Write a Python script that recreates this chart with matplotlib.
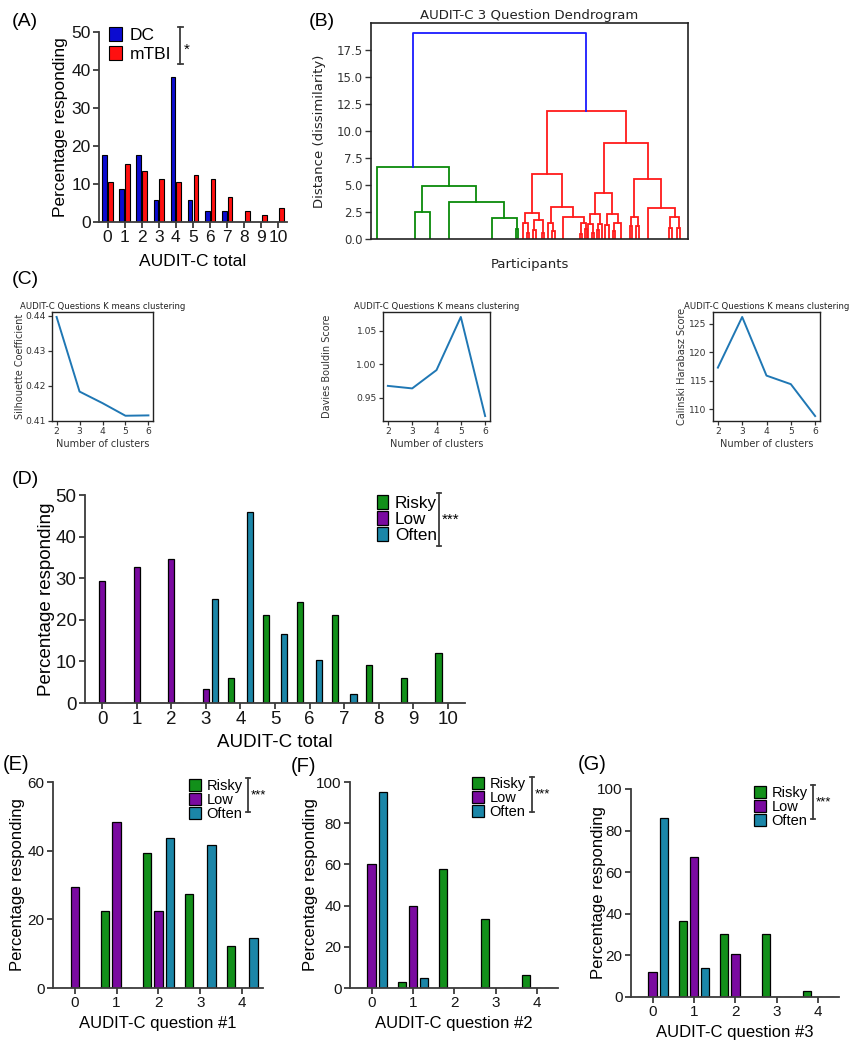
import numpy as np
import matplotlib
matplotlib.use('Agg')
import matplotlib.pyplot as plt
from matplotlib.font_manager import FontProperties
from matplotlib.lines import Line2D

# ---------------- data ----------------
audit_scores = list(range(11))
dc_pct = [17.6, 8.8, 17.6, 5.9, 38.2, 5.9, 2.9, 2.9, 0, 0, 0]
mtbi_pct = [10.5, 15.2, 13.3, 11.4, 10.5, 12.4, 11.4, 6.7, 2.9, 1.9, 3.8]

k_clusters = [2, 3, 4, 5, 6]
silhouette = [0.4397, 0.4184, 0.4151, 0.4115, 0.4116]
davies_bouldin = [0.9675, 0.9637, 0.9912, 1.0710, 0.9222]
calinski = [117.3, 126.2, 115.9, 114.4, 108.8]

group_names = ['Risky', 'Low', 'Often']
total_risky = [0, 0, 0, 0, 6.1, 21.2, 24.2, 21.2, 9.1, 6.1, 12.1]
total_low = [29.3, 32.8, 34.5, 3.4, 0, 0, 0, 0, 0, 0, 0]
total_often = [0, 0, 0, 25.0, 45.8, 16.7, 10.4, 2.1, 0, 0, 0]

answers = [0, 1, 2, 3, 4]
q1_risky = [0, 22.5, 39.4, 27.3, 12.1]
q1_low = [29.3, 48.3, 22.4, 0, 0]
q1_often = [0, 0, 43.8, 41.7, 14.6]
q2_risky = [0, 3.0, 57.6, 33.3, 6.1]
q2_low = [60.3, 39.7, 0, 0, 0]
q2_often = [95.0, 5.0, 0, 0, 0]
q3_risky = [0, 36.4, 30.3, 30.3, 3.0]
q3_low = [12.1, 67.2, 20.7, 0, 0]
q3_often = [86.0, 14.0, 0, 0, 0]

# dendrogram: node = [merge height, left, right]; leaf = participant order position
n_participants = 139
root_height = 19.0
green_tree = [6.62, 2.6, [4.87, [2.46, 19.1, 26.0],
                          [3.39, 34.0, [1.94, 53.0, [0.9, 63.5, 64.5]]]]]
red_tree = [11.85,
            [6.0,
             [2.38, [1.5, 66.6, [0.6, 68.2, 69.4]],
                    [1.76, [0.8, 71.0, 72.2], [0.6, 75.0, 76.0]]],
             [3.0, [1.45, 77.5, [0.7, 79.5, 80.5]],
                   [2.07, 84.1, [1.45, [0.5, 91.6, 92.6], [0.9, 93.8, 94.8]]]]],
            [8.86,
             [4.29,
              [2.31, [1.4, 95.0, [0.6, 97.0, 97.8]], [1.4, [0.8, 99.0, 99.8], 101.1]],
              [2.31, [1.3, 102.6, 104.4], [1.5, [0.7, 106.2, 107.0], 109.6]]],
             [5.55,
              [2.07, [1.2, 113.4, 114.6], [1.2, 116.3, 117.5]],
              [2.84, 121.3, [2.0, [1.0, 130.7, 131.9], [1.0, 134.3, 135.5]]]]]]

# ---------------- style ----------------
plt.rcParams['font.family'] = ['Liberation Sans', 'DejaVu Sans']
C_DC, C_MTBI = '#0b0bd0', '#ff1010'
C_RISKY, C_LOW, C_OFTEN = '#12901a', '#7a0aa0', '#1b86a8'
AX_COL = '#3c3c3c'

W, H = 852, 1050
fig = plt.figure(figsize=(W / 100, H / 100), dpi=100)


def fx(x):
    return x / W


def fy(y):
    return 1 - y / H


def px_ax(L, R, T, B):
    return fig.add_axes([fx(L), fy(B), (R - L) / W, (B - T) / H])


def ax_pt(ax, x, y):
    l, b, w, h = ax.get_position().bounds
    return ((fx(x) - l) / w, (fy(y) - b) / h)


def fig_text(x, y, s, **kw):
    fig.text(fx(x), fy(y), s, **kw)


def bracket(x, y0, y1, cap=5, lw=1.3):
    fig.add_artist(Line2D([fx(x), fx(x)], [fy(y0), fy(y1)],
                          transform=fig.transFigure, color=AX_COL, lw=lw))
    for y in (y0, y1):
        fig.add_artist(Line2D([fx(x - cap / 2), fx(x + cap / 2)], [fy(y), fy(y)],
                              transform=fig.transFigure, color=AX_COL, lw=lw))


def prism(ax, fs):
    ax.spines['top'].set_visible(False)
    ax.spines['right'].set_visible(False)
    for s in ('left', 'bottom'):
        ax.spines[s].set_color(AX_COL)
        ax.spines[s].set_linewidth(1.3)
    ax.tick_params(axis='both', direction='out', length=4, width=1.3,
                   color=AX_COL, labelsize=fs, labelcolor='#151515', pad=2)


def set_ylabel_x(ax, x):
    ax.yaxis.set_label_coords(ax_pt(ax, x, 0)[0], 0.5)
    ax.yaxis.label.set_va('center')


def cfont(size):
    return FontProperties(family='DejaVu Sans', size=size)


# ---------------- panel A ----------------
axA = px_ax(99, 287, 32, 222)
xa = np.arange(len(audit_scores))
bA1 = axA.bar(xa - 0.17, dc_pct, 0.28, color=C_DC, edgecolor='black', lw=0.8, label='DC')
bA2 = axA.bar(xa + 0.17, mtbi_pct, 0.28, color=C_MTBI, edgecolor='black', lw=0.8, label='mTBI')
axA.set_xlim(-0.5, 10.5)
axA.set_ylim(0, 50)
axA.set_xticks(xa)
axA.set_xticklabels([str(s) for s in audit_scores])
axA.set_yticks([0, 10, 20, 30, 40, 50])
prism(axA, 12.5)
axA.set_ylabel('Percentage responding', fontsize=12.5)
set_ylabel_x(axA, 61)
axA.set_xlabel('AUDIT-C total', fontsize=12.5)
axA.xaxis.set_label_coords(0.5, ax_pt(axA, 193, 262)[1])
axA.xaxis.label.set_va('center')
axA.legend([bA1, bA2], ['DC', 'mTBI'], loc='upper left', bbox_to_anchor=ax_pt(axA, 109, 27),
           frameon=False, borderpad=0, borderaxespad=0, handlelength=0.75, handleheight=0.9,
           handletextpad=0.45, labelspacing=0.15, fontsize=12.5)
bracket(180, 27, 64)
fig_text(184, 50, '*', fontsize=11, va='center', ha='left')
fig_text(12, 22, '(A)', fontsize=14, va='center', ha='left')

# ---------------- panel B ----------------
axB = px_ax(371, 688, 23, 239)


def draw_tree(ax, node, color):
    if not isinstance(node, list):
        return node, 0.0
    h, left, right = node
    xl, hl = draw_tree(ax, left, color)
    xr, hr = draw_tree(ax, right, color)
    ax.plot([xl, xl, xr, xr], [hl, h, h, hr], color=color, lw=1.3, solid_joinstyle='miter')
    return (xl + xr) / 2, h


xg, hg = draw_tree(axB, green_tree, '#0a8a0a')
xr_, hr_ = draw_tree(axB, red_tree, '#ff1a1a')
axB.plot([xg, xg, xr_, xr_], [hg, root_height, root_height, hr_], color='#1a1aff', lw=1.3)
axB.set_xlim(0, n_participants)
axB.set_ylim(0, root_height * 1.05)
axB.set_xticks([])
yt = [0, 2.5, 5.0, 7.5, 10.0, 12.5, 15.0, 17.5]
axB.set_yticks(yt)
axB.set_yticklabels([f'{v:.1f}' for v in yt], family='DejaVu Sans', fontsize=8.5, color='#333333')
axB.tick_params(axis='y', length=4, width=1.0, color='#333333', pad=2)
for s in axB.spines.values():
    s.set_color('#222222')
    s.set_linewidth(1.2)
axB.set_title('AUDIT-C 3 Question Dendrogram', family='DejaVu Sans', fontsize=9.5,
              color='#222222', pad=3)
axB.set_ylabel('Distance (dissimilarity)', family='DejaVu Sans', fontsize=9.5, color='#222222')
set_ylabel_x(axB, 320)
axB.set_xlabel('Participants', family='DejaVu Sans', fontsize=9.5, color='#222222', labelpad=14)
fig_text(309, 21, '(B)', fontsize=14, va='center', ha='left')

# ---------------- panel C ----------------
c_boxes = [(52, 153), (383, 490), (713, 820)]
c_ylab_x = [20, 327, 682]
c_data = [silhouette, davies_bouldin, calinski]
c_ylabels = ['Silhouette Coefficient', 'Davies Bouldin Score', 'Calinski Harabasz Score']
c_yticks = [[0.41, 0.42, 0.43, 0.44], [0.95, 1.00, 1.05], [110, 115, 120, 125]]
c_fmt = ['{:.2f}', '{:.2f}', '{:.0f}']
for (L, R), ylx, vals, yl, ytk, fmt in zip(c_boxes, c_ylab_x, c_data, c_ylabels, c_yticks, c_fmt):
    ax = px_ax(L, R, 312, 421)
    ax.plot(k_clusters, vals, color='#1f77b4', lw=1.4)
    ax.set_xticks(k_clusters)
    ax.set_yticks(ytk)
    ax.set_xticklabels([str(k) for k in k_clusters])
    ax.set_yticklabels([fmt.format(v) for v in ytk])
    ax.tick_params(length=3, width=0.9, color='#333333', pad=1.5, labelcolor='#333333')
    for lbl in ax.get_xticklabels() + ax.get_yticklabels():
        lbl.set_fontproperties(cfont(6.6))
    for s in ax.spines.values():
        s.set_color('#222222')
        s.set_linewidth(1.0)
    ax.set_title('AUDIT-C Questions K means clustering', fontproperties=cfont(6.1),
                 color='#222222', pad=2)
    ax.set_ylabel(yl, fontproperties=cfont(7.0), color='#333333')
    set_ylabel_x(ax, ylx)
    ax.set_xlabel('Number of clusters', fontproperties=cfont(7.0), color='#333333', labelpad=2)
fig_text(12, 280, '(C)', fontsize=14, va='center', ha='left')

# ---------------- panel D ----------------
axD = px_ax(85, 465, 495, 703)
offsets = [-0.27, 0.0, 0.27]
cols = [C_RISKY, C_LOW, C_OFTEN]
hD = []
for off, vals, col, nm in zip(offsets, [total_risky, total_low, total_often], cols, group_names):
    hD.append(axD.bar(xa + off, vals, 0.18, color=col, edgecolor='black', lw=0.9, label=nm))
axD.set_xlim(-0.5, 10.5)
axD.set_ylim(0, 50)
axD.set_xticks(xa)
axD.set_xticklabels([str(s) for s in audit_scores])
axD.set_yticks([0, 10, 20, 30, 40, 50])
prism(axD, 13.5)
axD.set_ylabel('Percentage responding', fontsize=13.5)
set_ylabel_x(axD, 47)
axD.set_xlabel('AUDIT-C total', fontsize=13.5, labelpad=4)
axD.legend(hD, group_names, loc='upper left', bbox_to_anchor=ax_pt(axD, 377, 495),
           frameon=False, borderpad=0, borderaxespad=0, handlelength=0.65, handleheight=0.9,
           handletextpad=0.4, labelspacing=0.0, fontsize=12.3)
bracket(439, 493, 546)
fig_text(442, 520, '***', fontsize=11, va='center', ha='left')
fig_text(12, 480, '(D)', fontsize=14, va='center', ha='left')

# ---------------- panels E, F, G ----------------
xq = np.arange(len(answers))
q_panels = [
    ((53, 263, 782, 988), [q1_risky, q1_low, q1_often], 60, [0, 20, 40, 60],
     'AUDIT-C question #1', 18, (189, 779), 248, (778, 812), '(E)', (3, 765)),
    ((350, 558, 782, 988), [q2_risky, q2_low, q2_often], 100, [0, 20, 40, 60, 80, 100],
     'AUDIT-C question #2', 311, (472, 777), 532, (777, 812), '(F)', (291, 767)),
    ((631, 839, 789, 997), [q3_risky, q3_low, q3_often], 100, [0, 20, 40, 60, 80, 100],
     'AUDIT-C question #3', 598, (754, 786), 813, (785, 819), '(G)', (578, 764)),
]
for (L, R, T, B), series, ymax, yticks, xl, ylx, legxy, brx, bry, tag, tagxy in q_panels:
    ax = px_ax(L, R, T, B)
    hs = []
    for off, vals, col, nm in zip(offsets, series, cols, group_names):
        hs.append(ax.bar(xq + off, vals, 0.2, color=col, edgecolor='black', lw=0.9, label=nm))
    ax.set_xlim(-0.52, 4.5)
    ax.set_ylim(0, ymax)
    ax.set_xticks(xq)
    ax.set_xticklabels([str(a) for a in answers])
    ax.set_yticks(yticks)
    prism(ax, 11)
    ax.set_ylabel('Percentage responding', fontsize=12)
    set_ylabel_x(ax, ylx)
    ax.set_xlabel(xl, fontsize=12, labelpad=4)
    ax.legend(hs, group_names, loc='upper left', bbox_to_anchor=ax_pt(ax, *legxy),
              frameon=False, borderpad=0, borderaxespad=0, handlelength=0.85, handleheight=0.9,
              handletextpad=0.35, labelspacing=0.0, fontsize=10.5)
    bracket(brx, bry[0], bry[1], cap=4)
    fig_text(brx + 3, (bry[0] + bry[1]) / 2, '***', fontsize=9.5, va='center', ha='left')
    fig_text(tagxy[0], tagxy[1], tag, fontsize=14.5, va='center', ha='left')

fig.savefig('out.png', dpi=100)
